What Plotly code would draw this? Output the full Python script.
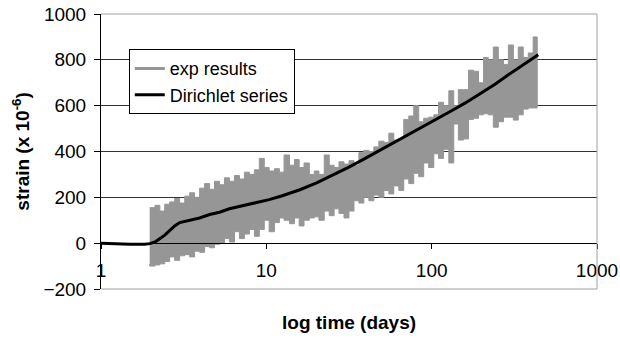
import plotly.graph_objects as go

# ---- data ----
exp_days = [1.97, 2.12, 2.27, 2.43, 2.60, 2.79, 2.99, 3.21, 3.44, 3.68,
            3.95, 4.23, 4.54, 4.86, 5.21, 5.58, 5.98, 6.42, 6.88, 7.37,
            7.90, 8.47, 9.07, 9.72, 10.4, 11.2, 12.0, 12.8, 13.8, 14.8,
            15.8, 16.9, 18.2, 19.5, 20.8, 22.4, 24.0, 25.7, 27.5, 29.5,
            31.6, 33.9, 36.3, 38.9, 41.7, 44.7, 47.9, 51.4, 55.1, 59.0,
            63.3, 67.8, 72.7, 77.9, 83.5, 89.5, 95.9, 103, 110, 118,
            127, 136, 145, 156, 167, 179, 192, 206, 220, 236,
            253, 272, 291, 312, 334, 358, 384, 411, 435]
exp_upper = [155, 165, 140, 170, 180, 195, 175, 205, 220, 200,
             240, 260, 235, 270, 255, 285, 270, 295, 280, 310,
             300, 320, 370, 330, 315, 325, 310, 385, 340, 365,
             330, 350, 300, 315, 300, 385, 340, 330, 355, 345,
             360, 340, 395, 405, 400, 420, 445, 440, 480, 450,
             455, 540, 555, 600, 530, 545, 550, 560, 615, 600,
             665, 600, 670, 670, 755, 750, 700, 810, 800, 856,
             800, 780, 865, 800, 856, 810, 830, 900, 890]
exp_lower = [-90, -100, -95, -90, -80, -60, -75, -55, -50, -60,
             -35, -40, -15, -20, -5, 0, 20, 5, 50, 20,
             40, 60, 30, 60, 100, 50, 90, 110, 100, 85,
             110, 75, 100, 110, 115, 100, 140, 120, 150, 130,
             110, 140, 185, 175, 200, 185, 210, 200, 230, 215,
             250, 230, 280, 260, 305, 290, 350, 330, 390, 370,
             410, 350, 520, 450, 455, 540, 545, 560, 565, 560,
             506, 530, 550, 550, 537, 560, 585, 590, 590]

dir_days = [1.0, 1.21, 1.50, 1.84, 1.97, 2.12, 2.27, 2.43, 2.60, 2.79,
            2.99, 3.44, 3.95, 4.54, 5.21, 5.98, 6.88, 7.90, 9.07, 10.4,
            12.5, 15.8, 20.0, 25.0, 31.6, 38.9, 46.6, 59.0, 72.7, 89.5,
            110, 132, 160, 200, 243, 291, 358, 441]
dir_strain = [0, -3, -5, -5, -2, 5, 20, 35, 55, 75,
              90, 100, 110, 125, 135, 150, 160, 170, 180, 190,
              207, 232, 262, 295, 332, 367, 398, 438, 473, 508,
              545, 578, 612, 655, 695, 735, 778, 822]

x_tick_vals = [1, 10, 100, 1000]
x_tick_text = ["1", "10", "100", "1000"]
y_tick_vals = [-200, 0, 200, 400, 600, 800, 1000]

GRAY = "#969696"
FONT = "Liberation Sans, Arial, sans-serif"

fig = go.Figure()

# exp results band (upper envelope forward, lower envelope backward)
fig.add_trace(go.Scatter(
    x=exp_days + exp_days[::-1],
    y=exp_upper + exp_lower[::-1],
    mode="lines", line=dict(color=GRAY, width=1, shape="hv"),
    fill="toself", fillcolor=GRAY, showlegend=False, hoverinfo="skip"))
# legend entry for exp results
fig.add_trace(go.Scatter(x=[None], y=[None], mode="lines",
                         line=dict(color=GRAY, width=3), name="exp results"))
# Dirichlet series
fig.add_trace(go.Scatter(x=dir_days, y=dir_strain, mode="lines",
                         line=dict(color="black", width=3), name="Dirichlet series"))

fig.update_layout(
    width=620, height=341,
    margin=dict(l=101, r=23, t=14, b=52, autoexpand=False),
    paper_bgcolor="white", plot_bgcolor="white",
    font=dict(family=FONT, size=19, color="black"),
    showlegend=True,
    legend=dict(x=0.056, y=0.872, xanchor="left", yanchor="top",
                bgcolor="white", bordercolor="black", borderwidth=1,
                font=dict(size=18), itemwidth=30, tracegroupgap=0),
    xaxis=dict(type="log", range=[0, 3], anchor="free", position=1/6,
               showline=True, linecolor="black", linewidth=1,
               ticks="outside", ticklen=5, tickcolor="black",
               tickvals=x_tick_vals, ticktext=x_tick_text,
               ticklabelstandoff=5, automargin=False,
               showgrid=False, zeroline=False),
    yaxis=dict(range=[-200, 1000], tickvals=y_tick_vals,
               showline=True, linecolor="black", linewidth=1,
               ticks="outside", ticklen=6, tickcolor="black",
               showgrid=True, gridcolor="#333333", gridwidth=1,
               zeroline=False, ticklabelstandoff=4, automargin=False),
    shapes=[dict(type="path", xref="paper", yref="paper",
                 path="M 0 1 L 1 1 L 1 0 L 0 0",
                 line=dict(color="#a0a0a0", width=1), layer="above")],
    annotations=[
        dict(text="<b>log time (days)</b>", xref="paper", yref="paper",
             x=0.5, y=-0.1236, xanchor="center", yanchor="middle",
             showarrow=False, font=dict(size=19)),
        dict(text="<b>strain (x 10<sup>-6</sup>)</b>", xref="paper", yref="paper",
             x=-0.163, y=0.5, xanchor="center", yanchor="middle",
             textangle=-90, showarrow=False, font=dict(size=19)),
    ],
)

fig.write_html("out.html")
